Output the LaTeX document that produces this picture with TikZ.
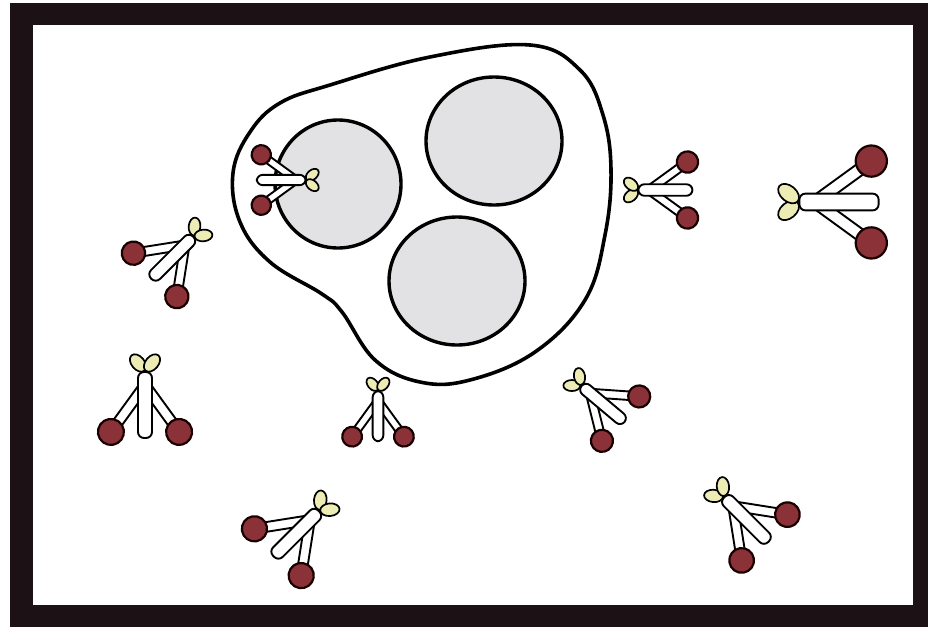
\documentclass[tikz,border=0pt]{standalone}
\definecolor{framecol}{RGB}{28,18,22}
\definecolor{nucgray}{RGB}{226,226,228}
\definecolor{fabred}{RGB}{138,50,56}
\definecolor{sugar}{RGB}{236,236,180}
\tikzset{
  rod/.style={draw=black, fill=white, line width=1.9pt},
  head/.style={draw=black!90!red, fill=fabred, line width=2.2pt},
  leaf/.style={draw=black, fill=sugar, line width=1.7pt},
  cellline/.style={line width=3.6pt, line join=round},
  nucleus/.style={draw=black, fill=nucgray, line width=3.4pt},
  pics/antibody/.style={code={
    % two arms with the binding heads
    \foreach \a in {-36,36}{
      \begin{scope}[rotate=\a]
        \draw[rod] (-5,0) rectangle (5,55);
        \draw[head] (0,58) circle (13);
      \end{scope}}
    % sugar leaves at the tail
    \foreach \a/\sd in {40/-1,-40/1}{
      \begin{scope}[shift={(\sd*7,-22)}, rotate=\a]
        \draw[leaf] (0,0) ellipse (6.5 and 10);
      \end{scope}}
    % stem
    \draw[rod, rounded corners=6pt] (-7,-13) rectangle (7,53);
  }}
}
\begin{document}
\begin{tikzpicture}[x=1pt, y=-1pt, line join=round, line cap=round]
  \useasboundingbox (0,0) rectangle (928,627);

  % frame
  \fill[framecol] (10,3) rectangle (928,627);
  \fill[white] (33,25) rectangle (913,605);

  % cell outline
  \draw[cellline] plot[smooth cycle, tension=0.65] coordinates {
    (233,173) (250,132) (280,103) (330,85) (430,57) (530,45) (580,70)
    (603,115) (611,170) (605,235) (585,300) (535,352) (470,380)
    (420,382) (375,360) (342,312) (322,294) (270,262) (240,222)};

  % nuclei
  \coordinate (N1) at (338,184);
  \coordinate (N2) at (494,141);
  \coordinate (N3) at (457,281);
  \draw[nucleus] (N1) ellipse (63 and 64);
  \draw[nucleus] (N2) ellipse (68 and 64);
  \draw[nucleus] (N3) ellipse (68 and 64);

  % antibodies (hinge points)
  \coordinate (ab1) at (145,385);
  \coordinate (ab2) at (185,245);
  \coordinate (ab3) at (649,190);
  \coordinate (ab4) at (815,202);
  \coordinate (ab5) at (296,180);
  \coordinate (ab6) at (378,401);
  \coordinate (ab7) at (590,393);
  \coordinate (ab8) at (310,520);
  \coordinate (ab9) at (733,506);

  \foreach \n/\r/\k in {ab1/0/1, ab2/-45/0.9, ab3/90/0.82, ab4/90/1.2,
      ab5/-90/0.74, ab6/0/0.76, ab7/50/0.85, ab8/-45/0.97, ab9/45/0.95}
    \pic[rotate=\r, scale=\k] at (\n) {antibody};
\end{tikzpicture}
\end{document}
